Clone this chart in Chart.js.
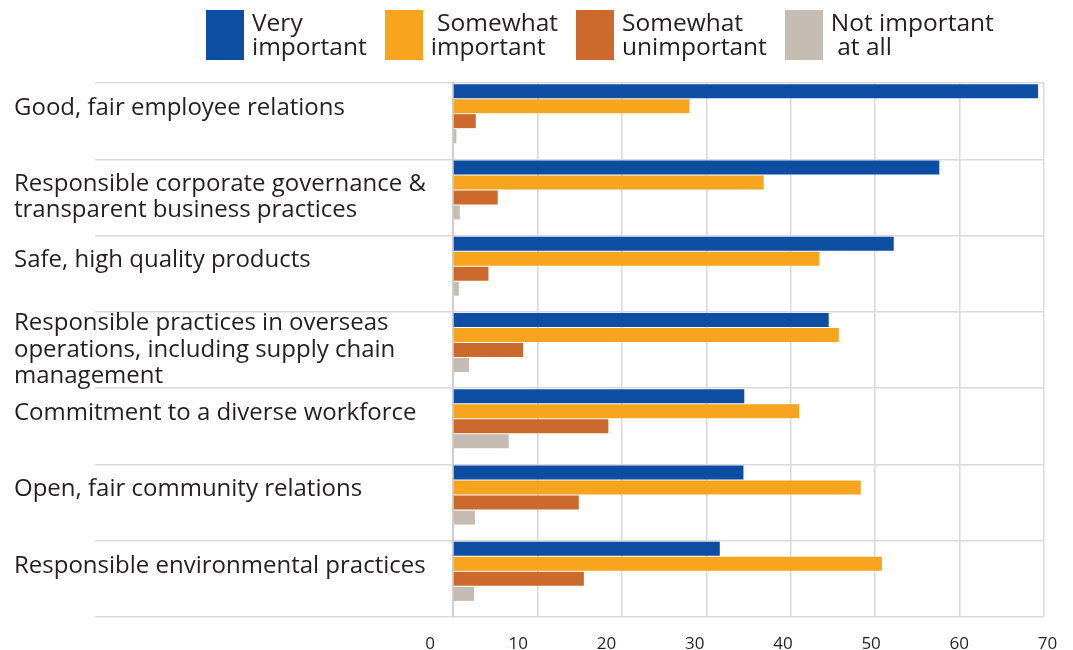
<!DOCTYPE html>
<html>
<head>
<meta charset="utf-8">
<script src="https://cdn.jsdelivr.net/npm/chart.js@4"></script>
<style>
  html, body { margin: 0; padding: 0; background: #fff; }
  #wrap { position: relative; width: 1073px; height: 650px; }
  #legend {
    position: absolute; top: 10px; left: 206px;
    display: flex; gap: 18px;
    font-family: "Open Sans", sans-serif; font-size: 24.5px; line-height: 24px; color: #231f20;
  }
  .item { display: flex; align-items: flex-start; }
  .box { width: 38px; height: 50px; margin-right: 8px; flex: none; }
  .txt { white-space: pre; }
</style>
</head>
<body>
<div id="wrap">
  <canvas id="chart"></canvas>
  <div id="legend"></div>
</div>
<script>
// ---------- data ----------
const categories = [
  ["Good, fair employee relations", ""],
  ["Responsible corporate governance &", "transparent business practices"],
  ["Safe, high quality products", ""],
  ["Responsible practices in overseas", "operations, including supply chain", "management"],
  ["Commitment to a diverse workforce", ""],
  ["Open, fair community relations", ""],
  ["Responsible environmental practices", ""]
];
const seriesNames = ["Very\nimportant", " Somewhat\nimportant", "Somewhat\nunimportant", "Not important\n at all"];
const seriesColors = ["#0d4ea2", "#f7a51e", "#cc6a2d", "#c5bcb3"];

const veryImportant       = [69.3, 57.6, 52.2, 44.5, 34.5, 34.4, 31.6];
const somewhatImportant   = [28.0, 36.8, 43.4, 45.7, 41.0, 48.3, 50.8];
const somewhatUnimportant = [2.7, 5.3, 4.2, 8.3, 18.4, 14.9, 15.5];
const notImportant        = [0.4, 0.8, 0.7, 1.9, 6.6, 2.6, 2.5];

const xMin = 0, xMax = 70, xStep = 10;
const xTickLabels = [0, 10, 20, 30, 40, 50, 60, 70];

// ---------- legend (html) ----------
const legend = document.getElementById("legend");
seriesNames.forEach((name, i) => {
  const item = document.createElement("div");
  item.className = "item";
  item.innerHTML = `<div class="box" style="background:${seriesColors[i]}"></div><div class="txt"></div>`;
  item.querySelector(".txt").textContent = name;
  legend.appendChild(item);
});

// ---------- chart ----------
const seriesValues = [veryImportant, somewhatImportant, somewhatUnimportant, notImportant];
const datasets = seriesValues.map((vals, i) => ({
  label: seriesNames[i].replace("\n", " "),
  data: vals,
  backgroundColor: seriesColors[i],
  borderWidth: 0,
  xAxisID: "x"
}));
// empty slot so the four bars sit at the top of each band
datasets.push({ label: "", data: [], backgroundColor: "transparent", xAxisID: "x" });

const gridColor = "#dadada";
const textColor = "#231f20";

new Chart(document.getElementById("chart"), {
  type: "bar",
  data: { labels: categories, datasets },
  options: {
    indexAxis: "y",
    responsive: true,
    maintainAspectRatio: false,
    animation: false,
    layout: { padding: { left: 14, top: 83, right: 29, bottom: 0 } },
    datasets: { bar: { categoryPercentage: 0.983, barPercentage: 0.935 } },
    plugins: { legend: { display: false }, tooltip: { enabled: false } },
    scales: {
      x: {
        min: xMin, max: xMax,
        ticks: { stepSize: xStep, display: false },
        grid: { color: gridColor, lineWidth: 1.5, drawTicks: false },
        border: { display: false },
        afterFit: (s) => { s.height = 0; }
      },
      // tick labels in the original sit on a slightly wider spacing than the grid
      xLabels: {
        type: "linear", position: "bottom",
        min: 2.6, max: 69.6,
        afterBuildTicks: (s) => { s.ticks = xTickLabels.map(v => ({ value: v })); },
        ticks: { color: textColor, padding: 17, font: { family: "Open Sans", size: 17 } },
        grid: { display: false, drawTicks: false },
        border: { display: false },
        afterFit: (s) => { s.height = 33; s.paddingLeft = 0; s.paddingRight = 0; }
      },
      y: {
        ticks: { autoSkip: false, crossAlign: "far", color: textColor, padding: 0, font: { family: "Open Sans", size: 24, lineHeight: 1.1 } },
        grid: { color: gridColor, lineWidth: 1.5, offset: true, tickLength: 358 },
        border: { color: "#cfcfcf", width: 2 },
        afterFit: (s) => { s.width = 453 - 14; }
      }
    }
  }
});
</script>
</body>
</html>
